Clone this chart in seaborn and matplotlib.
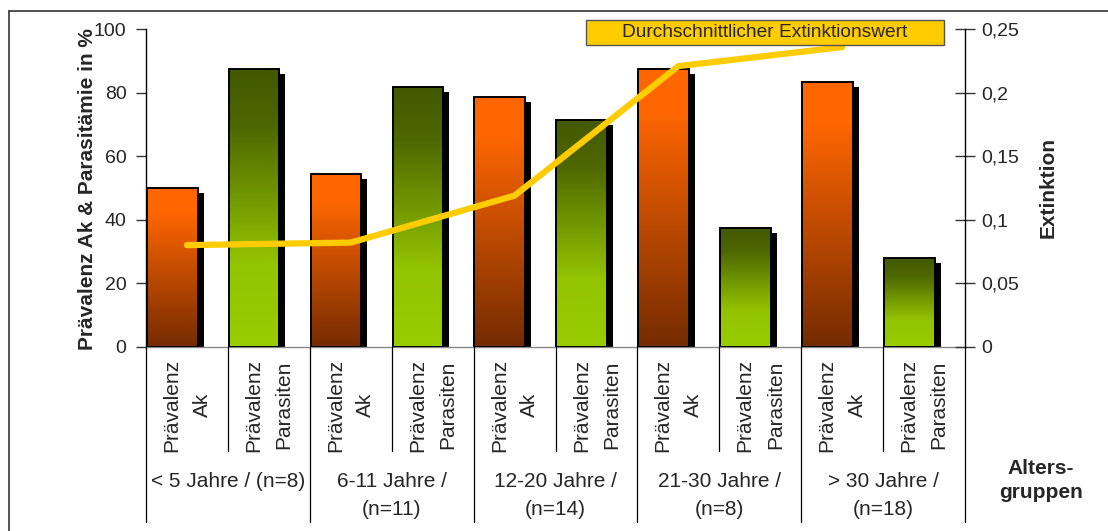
import numpy as np
import pandas as pd
import matplotlib
matplotlib.use("Agg")
import matplotlib.pyplot as plt
import matplotlib.transforms as mtrans
from matplotlib.colors import LinearSegmentedColormap, to_rgba
from matplotlib.patches import Rectangle
from matplotlib.lines import Line2D
import seaborn as sns

# ---- data -------------------------------------------------------------
age_groups = ["< 5 Jahre / (n=8)", "6-11 Jahre /\n(n=11)", "12-20 Jahre /\n(n=14)",
              "21-30 Jahre /\n(n=8)", "> 30 Jahre /\n(n=18)"]
series_labels = ["Prävalenz\nAk", "Prävalenz\nParasiten"]
praevalenz_ak = [50.0, 54.5, 78.6, 87.5, 83.3]
praevalenz_parasiten = [87.5, 81.8, 71.4, 37.5, 27.8]
extinktion = [0.080, 0.082, 0.119, 0.221, 0.236]
left_ticks = [0, 20, 40, 60, 80, 100]
right_ticks = [0, 0.05, 0.10, 0.15, 0.20, 0.25]
right_tick_labels = ["0", "0,05", "0,1", "0,15", "0,2", "0,25"]
legend_label = "Durchschnittlicher Extinktionswert"

# ---- style ------------------------------------------------------------
sns.set_style("white")
plt.rcParams["font.family"] = ["Liberation Sans", "DejaVu Sans"]

W, H = 1108, 531
fig = plt.figure(figsize=(W / 100, H / 100), dpi=100, facecolor="white")


def fx(px):
    return px / W


def fy(px):
    return 1 - px / H


ax = fig.add_axes([fx(146), fy(346.7), 819 / W, 317.4 / H])

# one slot per bar: Ak and Parasiten alternate inside each age group
rows = []
for g in range(len(age_groups)):
    rows.append({"slot": 2 * g, "serie": "Ak", "wert": praevalenz_ak[g]})
    rows.append({"slot": 2 * g + 1, "serie": "Parasiten", "wert": praevalenz_parasiten[g]})
df = pd.DataFrame(rows)
bar_offset = -0.18  # bars sit at the left side of their slot
df["xpos"] = df["slot"] + bar_offset

ak_color, para_color = "#FF6600", "#99CC00"
sns.barplot(data=df, x="xpos", y="wert", hue="serie",
            palette={"Ak": ak_color, "Parasiten": para_color}, saturation=1,
            native_scale=True, dodge=False, width=0.62, errorbar=None,
            edgecolor="black", linewidth=1.4, legend=False, ax=ax)

ak_cmap = LinearSegmentedColormap.from_list(
    "ak", [(0, "#FF6600"), (0.15, "#FF6600"), (1, "#742B00")])
para_cmap = LinearSegmentedColormap.from_list(
    "para", [(0, "#435800"), (0.2, "#4D6700"), (0.7, "#93C400"), (1, "#99CC00")])
grad = np.linspace(0, 1, 256).reshape(-1, 1)
shadow_tr = ax.transData + mtrans.ScaledTranslation(6 / 100, -5 / 100, fig.dpi_scale_trans)

for patch in list(ax.patches):
    x0, w, h = patch.get_x(), patch.get_width(), patch.get_height()
    is_ak = np.allclose(patch.get_facecolor(), to_rgba(ak_color), atol=0.02)
    cmap = ak_cmap if is_ak else para_cmap
    # drop shadow
    sh = Rectangle((x0, 0), w, h, facecolor="black", edgecolor="none",
                   transform=shadow_tr, zorder=1.5)
    ax.add_patch(sh)
    sh.set_clip_path(ax.patch)
    # vertical gradient fill
    im = ax.imshow(grad, cmap=cmap, extent=[x0, x0 + w, 0, h], origin="upper",
                   aspect="auto", interpolation="bilinear", zorder=2)
    im.set_clip_path(patch)
    patch.set_facecolor("none")
    patch.set_zorder(3)

ax.set_xlim(-0.5, 9.5)
ax.set_ylim(0, 100)
ax.set_xticks([])
ax.set_xlabel("")
ax.set_ylabel("")
ax.set_yticks(left_ticks)
ax.set_yticklabels([str(t) for t in left_ticks])
ax.tick_params(axis="y", direction="out", length=7, width=1, color="#333333",
               labelsize=14, pad=7, left=True)
for s in ("top", "right"):
    ax.spines[s].set_visible(False)
ax.spines["left"].set_color("black")
ax.spines["left"].set_linewidth(1.0)
ax.spines["bottom"].set_color("#888888")
ax.spines["bottom"].set_linewidth(1.0)

# ---- extinction line on the secondary axis ------------------------------
ax2 = ax.twinx()
ak_slots = [2 * g for g in range(len(age_groups))]
sns.lineplot(x=ak_slots, y=extinktion, color="#FFCC00", linewidth=4.5, ax=ax2,
             legend=False)
for ln in ax2.lines:
    ln.set_solid_capstyle("round")
    ln.set_solid_joinstyle("miter")
ax2.set_xlim(-0.5, 9.5)
ax2.set_ylim(0, 0.25)
ax2.set_yticks(right_ticks)
ax2.set_yticklabels(right_tick_labels)
ax2.set_xticks([])
ax2.set_ylabel("")
ax2.tick_params(axis="y", direction="inout", length=14, width=1, color="#333333",
                labelsize=14, pad=5, right=True)
for s in ("top", "left", "bottom"):
    ax2.spines[s].set_visible(False)
ax2.spines["right"].set_color("black")
ax2.spines["right"].set_linewidth(1.0)

# ---- multi-level category axis ----------------------------------------
blend = mtrans.blended_transform_factory(ax.transData, fig.transFigure)
for slot in range(2 * len(age_groups)):
    fig.text(slot, fy(405), series_labels[slot % 2], transform=blend, rotation=90,
             ha="center", va="center", multialignment="center", fontsize=15,
             linespacing=1.75)
for g, label in enumerate(age_groups):
    fig.text(2 * g + 0.5, fy(472), label, transform=blend, ha="center", va="top",
             fontsize=15, linespacing=1.6)
for k in range(2 * len(age_groups) + 1):
    bottom = fy(521.5) if k % 2 == 0 else fy(451)
    fig.add_artist(Line2D([k - 0.5, k - 0.5], [fy(346.7), bottom], transform=blend,
                          color="black", lw=0.9))

# ---- axis titles --------------------------------------------------------
fig.text(fx(88), fy(189), "Prävalenz Ak & Parasitämie in %", rotation=90,
         ha="center", va="center", fontsize=15, fontweight="bold")
fig.text(fx(1048), fy(188), "Extinktion", rotation=90, ha="center", va="center",
         fontsize=15, fontweight="bold")
fig.text(fx(1041), fy(459), "Alters-\ngruppen", ha="center", va="top",
         fontsize=15, fontweight="bold", linespacing=1.3)

# ---- legend box ---------------------------------------------------------
fig.add_artist(Rectangle((fx(585.5), fy(44.5)), fx(943.5) - fx(585.5), 24.5 / H,
                         transform=fig.transFigure, facecolor="#FFCC00",
                         edgecolor="#555555", lw=1.0))
fig.text(fx(764.5), fy(32.3), legend_label, ha="center", va="center", fontsize=13.8)

# ---- chart frame --------------------------------------------------------
fig.add_artist(Line2D([fx(8.5), 1], [fy(11), fy(11)], transform=fig.transFigure,
                      color="#333333", lw=1.2))
fig.add_artist(Line2D([fx(8.5), fx(8.5)], [fy(11), 0], transform=fig.transFigure,
                      color="#333333", lw=1.2))

fig.savefig("out.png", dpi=100, facecolor="white")
